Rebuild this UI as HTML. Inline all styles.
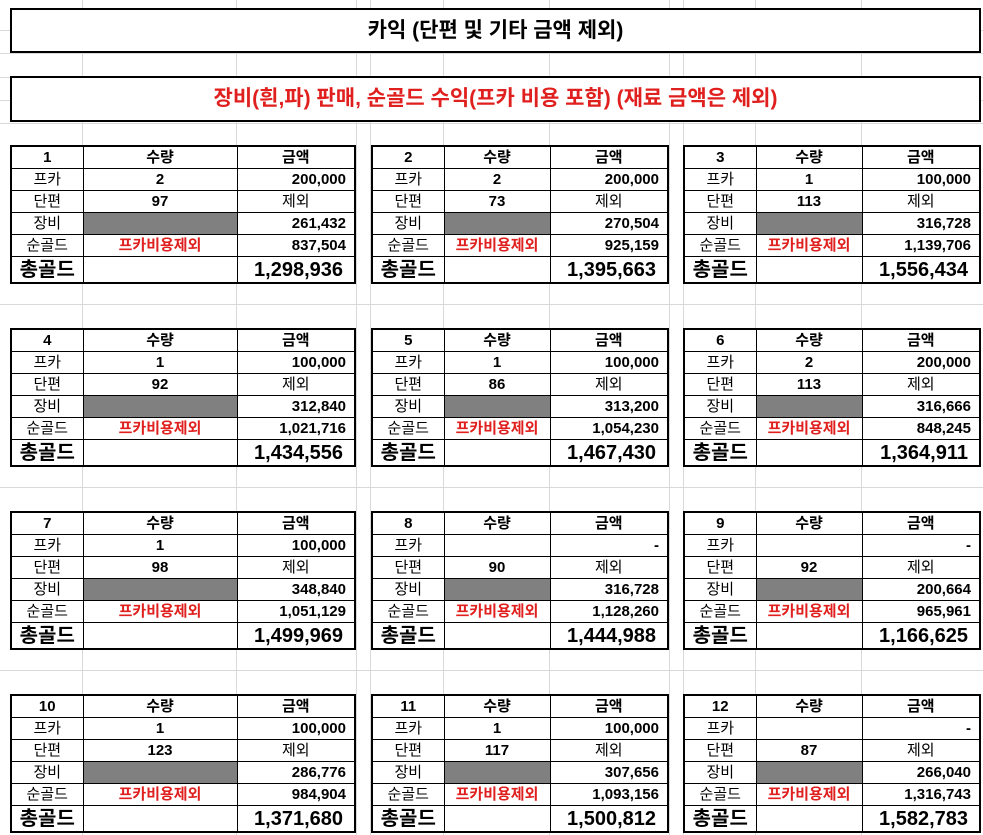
<!DOCTYPE html>
<html><head><meta charset="utf-8"><style>
body{margin:0;width:983px;height:835px;background:#fff;position:relative;overflow:hidden;font-family:"Liberation Sans","Noto Sans CJK KR","NanumGothic",sans-serif;color:#000}
.h{position:absolute;left:0;width:983px;height:1px;background:#d9d9d9}
.v{position:absolute;top:0;height:835px;width:1px;background:#d9d9d9}
.box{position:absolute;left:10px;width:967px;border:2px solid #000;background:#fff;text-align:center;font-weight:bold;font-size:21px}
table{position:absolute;border-collapse:collapse;border:2px solid #000;background:#fff;table-layout:fixed}
td{border:1px solid #000;height:21px;padding:0;font-size:15px;text-align:center;white-space:nowrap;overflow:hidden;line-height:20px}
td.b{font-weight:bold}
td.r{text-align:right;padding-right:8px;font-weight:bold}
tr.t td.r{padding-right:11px}
td.g{background:#808080}
td.red{color:#e0201e;font-weight:bold}
tr.t td{height:25px;font-size:20px;font-weight:bold}
</style></head><body>
<div class="h" style="top:30px"></div><div class="h" style="top:53px"></div><div class="h" style="top:77px"></div><div class="h" style="top:100px"></div><div class="h" style="top:123px"></div>
<div class="h" style="top:304px"></div><div class="h" style="top:487px"></div><div class="h" style="top:670px"></div>
<div class="v" style="left:82px"></div><div class="v" style="left:236px"></div><div class="v" style="left:356px"></div><div class="v" style="left:370px"></div><div class="v" style="left:443px"></div><div class="v" style="left:549px"></div><div class="v" style="left:669px"></div><div class="v" style="left:683px"></div><div class="v" style="left:755px"></div><div class="v" style="left:861px"></div>
<div class="box" style="top:8px;height:41px;line-height:41px">카익 (단편 및 기타 금액 제외)</div>
<div class="box" style="top:76px;height:42px;line-height:42px;color:#e0201e">장비(흰,파) 판매, 순골드 수익(프카 비용 포함) (재료 금액은 제외)</div>

<table style="left:10px;top:145px;width:346px"><colgroup><col style="width:72px"><col style="width:154px"><col style="width:118px"></colgroup>
<tr><td class="b">1</td><td class="b">수량</td><td class="b">금액</td></tr>
<tr><td>프카</td><td class="b">2</td><td class="r">200,000</td></tr>
<tr><td>단편</td><td class="b">97</td><td>제외</td></tr>
<tr><td>장비</td><td class="g"></td><td class="r">261,432</td></tr>
<tr><td>순골드</td><td class="red">프카비용제외</td><td class="r">837,504</td></tr>
<tr class="t"><td>총골드</td><td></td><td class="r">1,298,936</td></tr></table>

<table style="left:371px;top:145px;width:298px"><colgroup><col style="width:72px"><col style="width:106px"><col style="width:118px"></colgroup>
<tr><td class="b">2</td><td class="b">수량</td><td class="b">금액</td></tr>
<tr><td>프카</td><td class="b">2</td><td class="r">200,000</td></tr>
<tr><td>단편</td><td class="b">73</td><td>제외</td></tr>
<tr><td>장비</td><td class="g"></td><td class="r">270,504</td></tr>
<tr><td>순골드</td><td class="red">프카비용제외</td><td class="r">925,159</td></tr>
<tr class="t"><td>총골드</td><td></td><td class="r">1,395,663</td></tr></table>

<table style="left:683px;top:145px;width:298px"><colgroup><col style="width:72px"><col style="width:106px"><col style="width:118px"></colgroup>
<tr><td class="b">3</td><td class="b">수량</td><td class="b">금액</td></tr>
<tr><td>프카</td><td class="b">1</td><td class="r">100,000</td></tr>
<tr><td>단편</td><td class="b">113</td><td>제외</td></tr>
<tr><td>장비</td><td class="g"></td><td class="r">316,728</td></tr>
<tr><td>순골드</td><td class="red">프카비용제외</td><td class="r">1,139,706</td></tr>
<tr class="t"><td>총골드</td><td></td><td class="r">1,556,434</td></tr></table>

<table style="left:10px;top:328px;width:346px"><colgroup><col style="width:72px"><col style="width:154px"><col style="width:118px"></colgroup>
<tr><td class="b">4</td><td class="b">수량</td><td class="b">금액</td></tr>
<tr><td>프카</td><td class="b">1</td><td class="r">100,000</td></tr>
<tr><td>단편</td><td class="b">92</td><td>제외</td></tr>
<tr><td>장비</td><td class="g"></td><td class="r">312,840</td></tr>
<tr><td>순골드</td><td class="red">프카비용제외</td><td class="r">1,021,716</td></tr>
<tr class="t"><td>총골드</td><td></td><td class="r">1,434,556</td></tr></table>

<table style="left:371px;top:328px;width:298px"><colgroup><col style="width:72px"><col style="width:106px"><col style="width:118px"></colgroup>
<tr><td class="b">5</td><td class="b">수량</td><td class="b">금액</td></tr>
<tr><td>프카</td><td class="b">1</td><td class="r">100,000</td></tr>
<tr><td>단편</td><td class="b">86</td><td>제외</td></tr>
<tr><td>장비</td><td class="g"></td><td class="r">313,200</td></tr>
<tr><td>순골드</td><td class="red">프카비용제외</td><td class="r">1,054,230</td></tr>
<tr class="t"><td>총골드</td><td></td><td class="r">1,467,430</td></tr></table>

<table style="left:683px;top:328px;width:298px"><colgroup><col style="width:72px"><col style="width:106px"><col style="width:118px"></colgroup>
<tr><td class="b">6</td><td class="b">수량</td><td class="b">금액</td></tr>
<tr><td>프카</td><td class="b">2</td><td class="r">200,000</td></tr>
<tr><td>단편</td><td class="b">113</td><td>제외</td></tr>
<tr><td>장비</td><td class="g"></td><td class="r">316,666</td></tr>
<tr><td>순골드</td><td class="red">프카비용제외</td><td class="r">848,245</td></tr>
<tr class="t"><td>총골드</td><td></td><td class="r">1,364,911</td></tr></table>

<table style="left:10px;top:511px;width:346px"><colgroup><col style="width:72px"><col style="width:154px"><col style="width:118px"></colgroup>
<tr><td class="b">7</td><td class="b">수량</td><td class="b">금액</td></tr>
<tr><td>프카</td><td class="b">1</td><td class="r">100,000</td></tr>
<tr><td>단편</td><td class="b">98</td><td>제외</td></tr>
<tr><td>장비</td><td class="g"></td><td class="r">348,840</td></tr>
<tr><td>순골드</td><td class="red">프카비용제외</td><td class="r">1,051,129</td></tr>
<tr class="t"><td>총골드</td><td></td><td class="r">1,499,969</td></tr></table>

<table style="left:371px;top:511px;width:298px"><colgroup><col style="width:72px"><col style="width:106px"><col style="width:118px"></colgroup>
<tr><td class="b">8</td><td class="b">수량</td><td class="b">금액</td></tr>
<tr><td>프카</td><td class="b"></td><td class="r">-</td></tr>
<tr><td>단편</td><td class="b">90</td><td>제외</td></tr>
<tr><td>장비</td><td class="g"></td><td class="r">316,728</td></tr>
<tr><td>순골드</td><td class="red">프카비용제외</td><td class="r">1,128,260</td></tr>
<tr class="t"><td>총골드</td><td></td><td class="r">1,444,988</td></tr></table>

<table style="left:683px;top:511px;width:298px"><colgroup><col style="width:72px"><col style="width:106px"><col style="width:118px"></colgroup>
<tr><td class="b">9</td><td class="b">수량</td><td class="b">금액</td></tr>
<tr><td>프카</td><td class="b"></td><td class="r">-</td></tr>
<tr><td>단편</td><td class="b">92</td><td>제외</td></tr>
<tr><td>장비</td><td class="g"></td><td class="r">200,664</td></tr>
<tr><td>순골드</td><td class="red">프카비용제외</td><td class="r">965,961</td></tr>
<tr class="t"><td>총골드</td><td></td><td class="r">1,166,625</td></tr></table>

<table style="left:10px;top:694px;width:346px"><colgroup><col style="width:72px"><col style="width:154px"><col style="width:118px"></colgroup>
<tr><td class="b">10</td><td class="b">수량</td><td class="b">금액</td></tr>
<tr><td>프카</td><td class="b">1</td><td class="r">100,000</td></tr>
<tr><td>단편</td><td class="b">123</td><td>제외</td></tr>
<tr><td>장비</td><td class="g"></td><td class="r">286,776</td></tr>
<tr><td>순골드</td><td class="red">프카비용제외</td><td class="r">984,904</td></tr>
<tr class="t"><td>총골드</td><td></td><td class="r">1,371,680</td></tr></table>

<table style="left:371px;top:694px;width:298px"><colgroup><col style="width:72px"><col style="width:106px"><col style="width:118px"></colgroup>
<tr><td class="b">11</td><td class="b">수량</td><td class="b">금액</td></tr>
<tr><td>프카</td><td class="b">1</td><td class="r">100,000</td></tr>
<tr><td>단편</td><td class="b">117</td><td>제외</td></tr>
<tr><td>장비</td><td class="g"></td><td class="r">307,656</td></tr>
<tr><td>순골드</td><td class="red">프카비용제외</td><td class="r">1,093,156</td></tr>
<tr class="t"><td>총골드</td><td></td><td class="r">1,500,812</td></tr></table>

<table style="left:683px;top:694px;width:298px"><colgroup><col style="width:72px"><col style="width:106px"><col style="width:118px"></colgroup>
<tr><td class="b">12</td><td class="b">수량</td><td class="b">금액</td></tr>
<tr><td>프카</td><td class="b"></td><td class="r">-</td></tr>
<tr><td>단편</td><td class="b">87</td><td>제외</td></tr>
<tr><td>장비</td><td class="g"></td><td class="r">266,040</td></tr>
<tr><td>순골드</td><td class="red">프카비용제외</td><td class="r">1,316,743</td></tr>
<tr class="t"><td>총골드</td><td></td><td class="r">1,582,783</td></tr></table>
</body></html>
